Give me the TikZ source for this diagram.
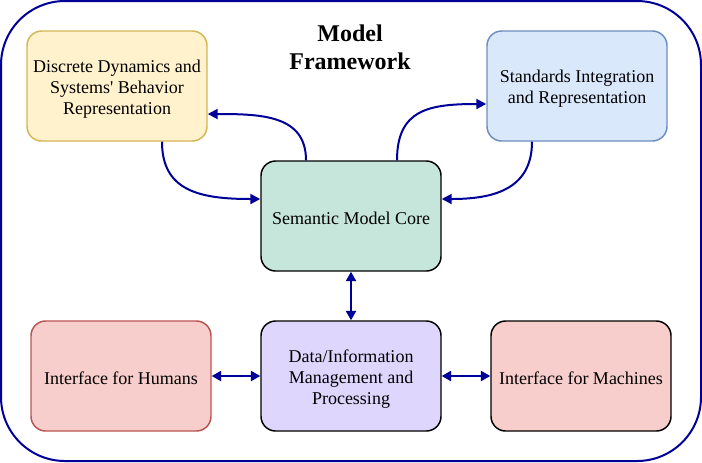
\documentclass[tikz,border=0pt]{standalone}
\usepackage{fontspec}
\setmainfont{Liberation Serif}[Ligatures=TeXOff]
\usetikzlibrary{arrows.meta, calc}

\definecolor{navy}{HTML}{000099}
\definecolor{yelfill}{HTML}{FFF2CC}
\definecolor{yeldraw}{HTML}{D6B656}
\definecolor{bluefill}{HTML}{DAE8FC}
\definecolor{bluedraw}{HTML}{6C8EBF}
\definecolor{corefill}{HTML}{C6E6DB}
\definecolor{datafill}{HTML}{DFD6FE}
\definecolor{redfill}{HTML}{F8CECC}
\definecolor{reddraw}{HTML}{B85450}
\newcommand\topstrut{\rule{0pt}{13.5pt}}

\begin{document}
\begin{tikzpicture}[x=0.75pt, y=-0.75pt,
	box/.style={rounded corners=11pt, line width=1.1pt, minimum width=135pt,
		minimum height=82.5pt, align=center, inner sep=2pt,
		font=\fontsize{13.5}{15.75}\selectfont,
		execute at begin node=\rule{0pt}{13.5pt}},
	link/.style={navy, line width=1.5pt, -{Triangle[length=7.5pt,width=7.5pt]}},
	both/.style={navy, line width=1.5pt, {Triangle[length=7pt,width=7.5pt]}-{Triangle[length=7pt,width=7.5pt]}}]
	\useasboundingbox (0,0) rectangle (702,462);
	\draw [navy, line width=1.5pt, rounded corners=48pt] (1,1) rectangle (701,461);
	\node (title) at (350,47) [align=center, font=\fontsize{18}{21}\selectfont\bfseries] {Model\\Framework};

	\node (dyn) at (117,86) [box, fill=yelfill, draw=yeldraw] {\topstrut Discrete Dynamics and\\Systems' Behavior\\Representation};
	\node (std) at (577,86) [box, fill=bluefill, draw=bluedraw] {\topstrut Standards Integration\\and Representation};
	\node (core) at (351,216) [box, fill=corefill, draw=black] {Semantic Model Core};
	\node (data) at (351,376) [box, fill=datafill, draw=black] {\topstrut Data/Information\\Management and\\Processing};
	\node (hum) at (121,376) [box, fill=redfill, draw=reddraw] {Interface for Humans};
	\node (mach) at (581,376) [box, fill=redfill, draw=black] {Interface for Machines};

	% curved links round the core
	\coordinate (C1) at ($(core.north)+(-45,0)$);
	\coordinate (D1) at ($(dyn.east)+(0,28)$);
	\draw [link] (C1) .. controls ($(C1)+(0,-45)$) and ($(D1)+(54,0)$) .. (D1);

	\coordinate (D2) at ($(dyn.south)+(45,0)$);
	\coordinate (C2) at ($(core.west)+(0,-17)$);
	\draw [link] (D2) .. controls ($(D2)+(0,49)$) and ($(C2)+(-61,0)$) .. (C2);

	\coordinate (C3) at ($(core.north)+(46,0)$);
	\coordinate (S3) at ($(std.west)+(0,18)$);
	\draw [link] (C3) .. controls ($(C3)+(0,-51)$) and ($(S3)+(-57,0)$) .. (S3);

	\coordinate (S4) at ($(std.south)+(-45,0)$);
	\coordinate (C4) at ($(core.east)+(0,-17)$);
	\draw [link] (S4) .. controls ($(S4)+(0,49)$) and ($(C4)+(49,0)$) .. (C4);

	% straight links
	\draw [both] (core) -- (data);
	\draw [both] (hum) -- (data);
	\draw [both] (data) -- (mach);

\end{tikzpicture}
\end{document}
